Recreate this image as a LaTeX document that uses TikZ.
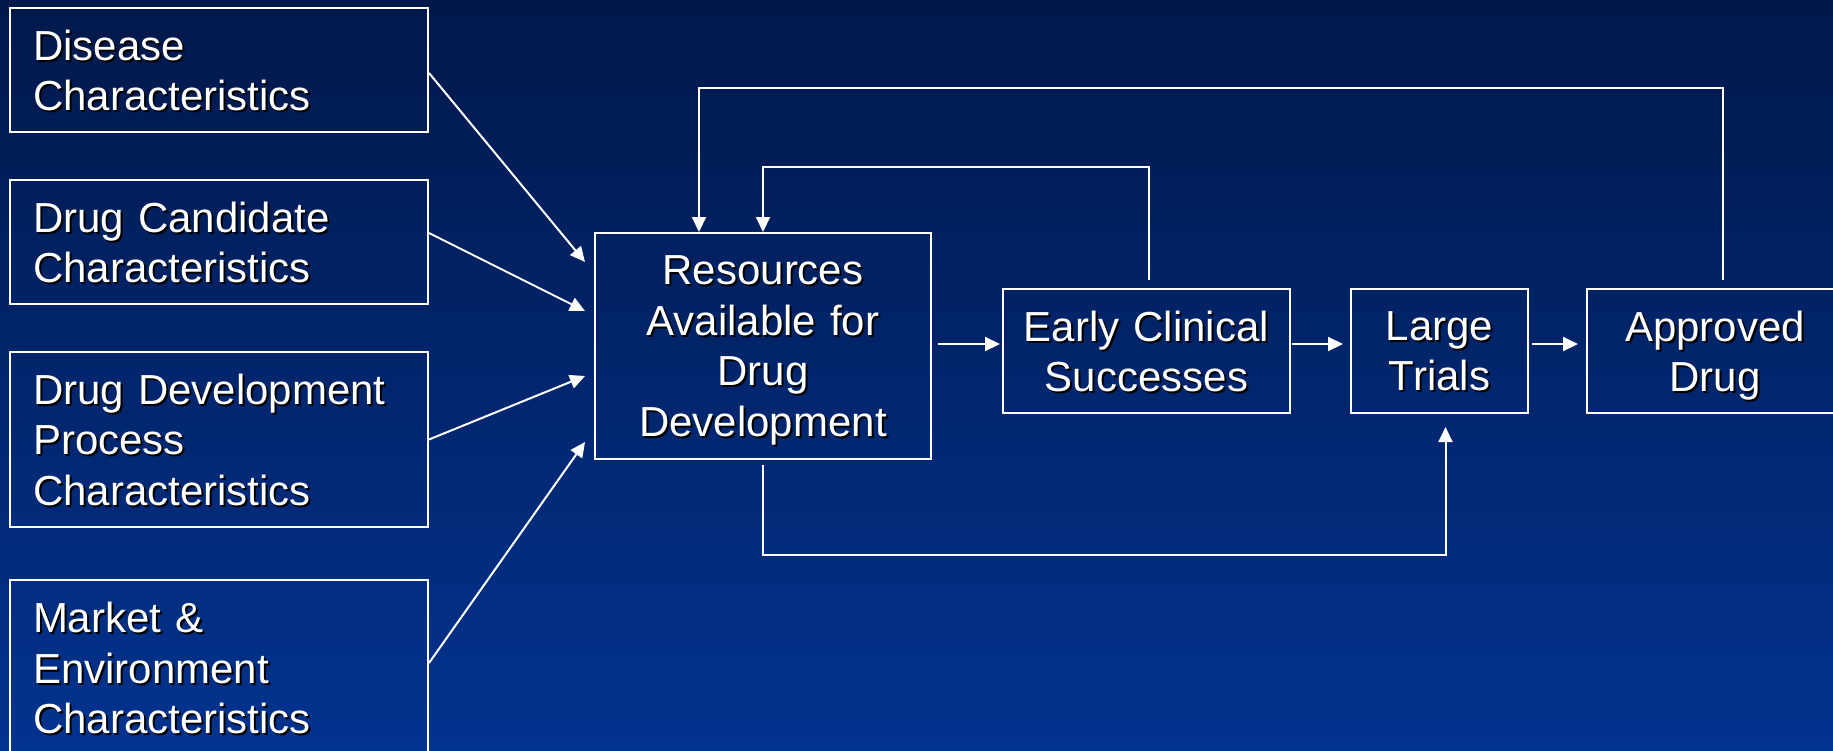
\documentclass[tikz,border=0pt]{standalone}
\usepackage{fontspec}
\setmainfont{Liberation Sans}
\usetikzlibrary{arrows.meta}
\definecolor{bgtop}{RGB}{1,24,74}
\definecolor{bgbot}{RGB}{2,51,143}
\newcommand\sh[1]{\raisebox{0pt}[\height][0pt]{\rlap{\kern2pt\raisebox{-2pt}{\color{black}#1}}#1}}
\tikzset{
  box/.style={draw=white, line width=2pt, text=white, font=\fontsize{42}{50.4}\selectfont, inner ysep=0pt, anchor=north west},
  lbox/.style={box, align=left, inner xsep=23pt, text width=372pt, minimum width=418pt},
  cbox/.style={box, align=center, inner xsep=4pt},
  arr/.style={draw=white, line width=2pt, -{Triangle[length=15pt,width=14pt]}},
}
\begin{document}
\begin{tikzpicture}[x=1pt,y=-1pt]
\useasboundingbox (0,0) rectangle (1833,750);
\shade[top color=bgtop, bottom color=bgbot] (0,0) rectangle (1833,750);
\clip (0,0) rectangle (1833,750);
% left boxes
\node[lbox, minimum height=124pt] (dis) at (9,7) {\sh{Disease}\\\sh{Characteristics}};
\node[lbox, minimum height=124pt] (cand) at (9,179) {\sh{Drug Candidate}\\\sh{Characteristics}};
\node[lbox, minimum height=175pt] (proc) at (9,351) {\sh{Drug Development}\\\sh{Process}\\\sh{Characteristics}};
\node[lbox, minimum height=176pt] (mkt) at (9,579) {\sh{Market \&}\\\sh{Environment}\\\sh{Characteristics}};
% main chain
\node[cbox, text width=328pt, minimum height=226pt] (res) at (594,232) {\sh{Resources}\\\sh{Available for}\\\sh{Drug}\\\sh{Development}};
\node[cbox, text width=279pt, minimum height=124pt] (ec) at (1002,288) {\sh{Early Clinical}\\\sh{Successes}};
\node[cbox, text width=169pt, minimum height=124pt] (lt) at (1350,288) {\sh{Large}\\\sh{Trials}};
\node[cbox, text width=248pt, minimum height=124pt] (ap) at (1586,288) {\sh{Approved}\\\sh{Drug}};
% inputs
\draw[arr] ([yshift=-3pt]dis.east) -- ([xshift=-9pt,yshift=84pt]res.west);
\draw[arr] ([yshift=9pt]cand.east) -- ([xshift=-9pt,yshift=35pt]res.west);
\draw[arr] (proc.east) -- ([xshift=-9pt,yshift=-30pt]res.west);
\draw[arr] ([yshift=5pt]mkt.east) -- ([xshift=-9pt,yshift=-96pt]res.west);
% chain arrows
\draw[arr] ([xshift=6pt,yshift=2pt]res.east) -- ([xshift=-2pt,yshift=7pt]ec.west);
\draw[arr] ([xshift=1pt,yshift=7pt]ec.east) -- ([xshift=-7pt,yshift=7pt]lt.west);
\draw[arr] ([xshift=3pt,yshift=7pt]lt.east) -- ([xshift=-8pt,yshift=7pt]ap.west);
% feedback loops
\draw[arr] ([xshift=8pt,yshift=8pt]ap.north) |- ([xshift=-64pt,yshift=144pt]res.north) -- ([xshift=-64pt]res.north);
\draw[arr] ([xshift=2pt,yshift=8pt]ec.north) |- ([yshift=65pt]res.north) -- (res.north);
\draw[arr] ([yshift=-5pt]res.south) |- ([xshift=6pt,yshift=-141pt]lt.south) -- ([xshift=6pt,yshift=-13pt]lt.south);
\end{tikzpicture}
\end{document}
